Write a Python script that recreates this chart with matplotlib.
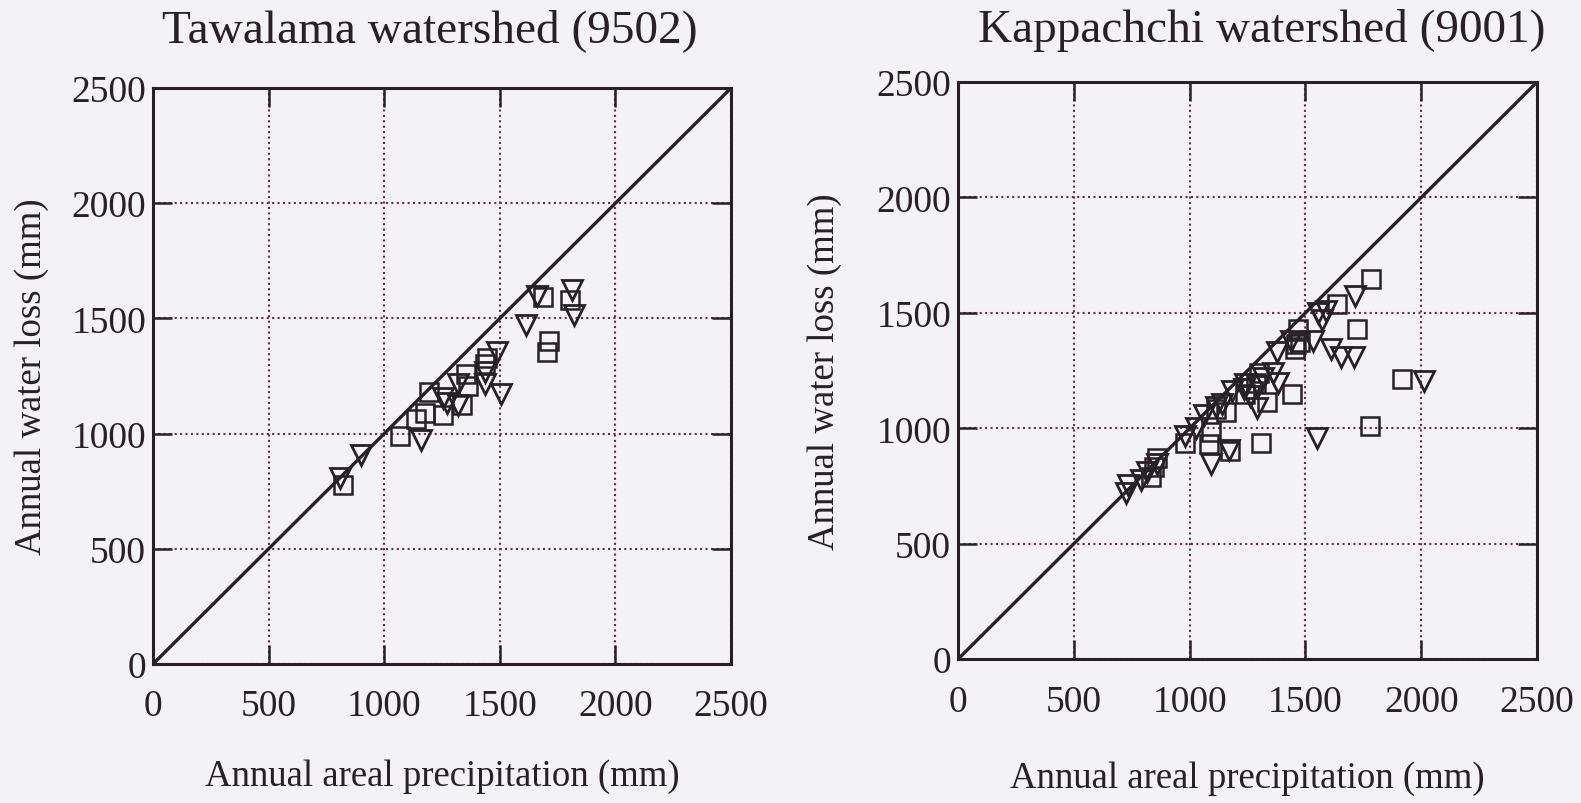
import matplotlib
matplotlib.use("Agg")
import matplotlib.pyplot as plt

plt.rcParams['font.family'] = ['Liberation Serif', 'DejaVu Serif']

# Tawalama watershed (9502)
taw_sq_x = [820, 1070, 1137, 1178, 1253, 1195, 1337, 1353, 1362, 1437, 1445, 1688, 1712, 1703, 1804]
taw_sq_y = [778, 988, 1063, 1088, 1080, 1182, 1122, 1259, 1207, 1301, 1327, 1593, 1403, 1352, 1582]
taw_tr_x = [808, 900, 1161, 1253, 1270, 1320, 1320, 1437, 1437, 1487, 1503, 1611, 1660, 1811, 1819]
taw_tr_y = [808, 905, 972, 1156, 1131, 1216, 1122, 1216, 1267, 1352, 1173, 1471, 1599, 1624, 1514]

# Kappachchi watershed (9001)
kap_sq_x = [832, 845, 859, 979, 1085, 1092, 1113, 1155, 1176, 1240, 1285, 1300, 1310, 1333,
            1440, 1453, 1460, 1467, 1475, 1637, 1722, 1782, 1780, 1915]
kap_sq_y = [789, 831, 873, 937, 930, 986, 1085, 1070, 901, 1150, 1195, 1240, 937, 1115,
            1150, 1345, 1365, 1429, 1375, 1540, 1429, 1645, 1010, 1215]
kap_tr_x = [725, 735, 789, 817, 859, 979, 1028, 1063, 1092, 1113, 1141, 1169, 1183, 1234,
            1261, 1290, 1297, 1317, 1361, 1375, 1382, 1437, 1531, 1552, 1570, 1588, 1609,
            1652, 1708, 1715, 1550, 2010, 1240]
kap_tr_y = [720, 755, 775, 810, 845, 965, 1000, 1056, 845, 1090, 1106, 908, 1160, 1170,
            1141, 1089, 1181, 1218, 1238, 1330, 1195, 1380, 1380, 1500, 1470, 1510, 1344,
            1309, 1309, 1571, 960, 1205, 1190]

ticks = [0, 500, 1000, 1500, 2000, 2500]
tick_labels = ['0', '500', '1000', '1500', '2000', '2500']
titles = ['Tawalama watershed (9502)', 'Kappachchi watershed (9001)']
xlabel = 'Annual areal precipitation (mm)'
ylabel = 'Annual water loss (mm)'

BG = '#f3f2f4'
INK = '#272125'
GRID = '#6e2a4e'

fig = plt.figure(figsize=(15.81, 8.04), dpi=100, facecolor=BG)
ax1 = fig.add_axes([0.0968, 0.1729, 0.3656, 0.7164])
ax2 = fig.add_axes([0.6060, 0.1790, 0.3662, 0.7177])

# (axes, data..., title, title x/y in figure coords, xlabel pad, ylabel pad)
panels = [
    (ax1, taw_sq_x, taw_sq_y, taw_tr_x, taw_tr_y, titles[0], 0.272, 0.962, 25, 16),
    (ax2, kap_sq_x, kap_sq_y, kap_tr_x, kap_tr_y, titles[1], 0.798, 0.962, 30, 25),
]

for ax, sx, sy, tx, ty, title, tx0, ty0, xpad, ypad in panels:
    ax.set_facecolor(BG)
    ax.set_xlim(0, 2500)
    ax.set_ylim(0, 2500)
    ax.set_xticks(ticks)
    ax.set_yticks(ticks)
    ax.set_xticklabels(tick_labels)
    ax.set_yticklabels(tick_labels)
    ax.tick_params(direction='in', length=14, width=1.8, color=INK,
                   top=True, right=True, labelsize=27, labelcolor=INK)
    ax.tick_params(axis='x', pad=18)
    ax.tick_params(axis='y', pad=5)
    ax.grid(True, linestyle=(0, (1, 1.6)), linewidth=1.5, color=GRID)
    for sp in ax.spines.values():
        sp.set_linewidth(2.2)
        sp.set_color(INK)
    # 1:1 line
    ax.plot([0, 2500], [0, 2500], color=INK, linewidth=2.4, zorder=2)
    ax.plot(sx, sy, linestyle='none', marker='s', markersize=13,
            markerfacecolor='none', markeredgecolor=INK, markeredgewidth=1.8, zorder=3)
    ax.plot(tx, ty, linestyle='none', marker='v', markersize=14,
            markerfacecolor='none', markeredgecolor=INK, markeredgewidth=2.0, zorder=3)
    fig.text(tx0, ty0, title, fontsize=34, color=INK, ha='center', va='center')
    ax.set_xlabel(xlabel, fontsize=26.5, color=INK, labelpad=xpad)
    ax.set_ylabel(ylabel, fontsize=26.5, color=INK, labelpad=ypad)

fig.savefig('out.png', dpi=100, facecolor=BG)
